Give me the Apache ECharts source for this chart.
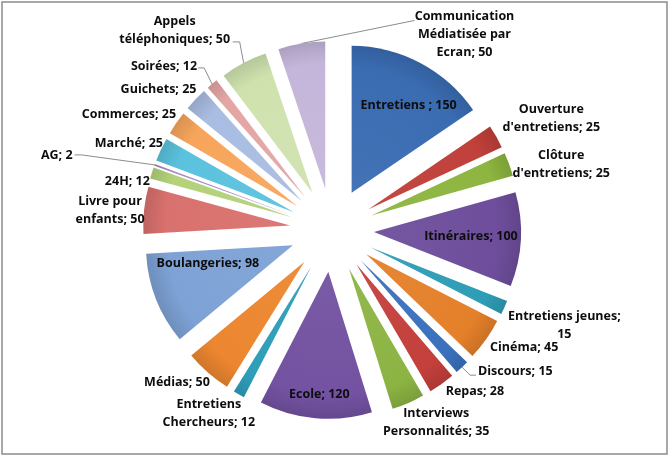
<!DOCTYPE html>
<html><head><meta charset="utf-8">
<script src="https://cdn.jsdelivr.net/npm/echarts@6/dist/echarts.min.js"></script>
<style>html,body{margin:0;padding:0;background:#fff}#c{width:670px;height:457px}</style>
</head><body><div id="c"></div>
<script>
// ---- data ----
const categories = ['Entretiens ', "Ouverture d'entretiens", "Clôture d'entretiens", 'Itinéraires',
  'Entretiens jeunes', 'Cinéma', 'Discours', 'Repas', 'Interviews Personnalités', 'Ecole',
  'Entretiens Chercheurs', 'Médias', 'Boulangeries', 'Livre pour enfants', '24H', 'AG', 'Marché',
  'Commerces', 'Guichets', 'Soirées', 'Appels téléphoniques', 'Communication Médiatisée par Ecran'];
const values = [150, 25, 25, 100, 15, 45, 15, 28, 35, 120, 12, 50, 98, 50, 12, 2, 25, 25, 25, 12, 50, 50];
// word positions after which the label wraps
const labelBreaks = [[], [1], [1], [], [2], [], [], [], [1], [], [1], [], [], [2], [], [], [], [], [], [], [1], [1, 3]];

// ---- style / layout ----
const colors = ['#3A6CB2', '#C0403A', '#8DB53F', '#6E4E9C', '#2F9DB6', '#E5802A', '#3B71BD', '#C3403C',
  '#8CB443', '#7352A1', '#2E9EB8', '#EC8630', '#7EA2D6', '#D9716E', '#B3D27A', '#A28DC6', '#5BC2DD',
  '#F7A55C', '#A9BDE2', '#E3A6A5', '#CFE2AE', '#C4B6DA'];
const CX = 332, CY = 230, R = 147, OFF = 42;
// label placement: ref 'in' = from slice apex, 'out' = from outer edge point; a = align
const place = [
  {ref: 'in', a: 'c', d: [57, -87]},
  {ref: 'out', a: 'c', d: [55, -18]},
  {ref: 'out', a: 'c', d: [52, 0]},
  {ref: 'in', a: 'c', d: [97, 4]},
  {ref: 'out', a: 'c', d: [60, 18]},
  {ref: 'out', a: 'l', d: [4, 8]},
  {ref: 'out', a: 'l', d: [16, 4], line: [[8, 8], [14, 8]]},
  {ref: 'out', a: 'l', d: [4, 8]},
  {ref: 'out', a: 'c', d: [28, 19]},
  {ref: 'in', a: 'c', d: [-9, 123]},
  {ref: 'out', a: 'c', d: [-30, 19]},
  {ref: 'out', a: 'r', d: [2, 10]},
  {ref: 'in', a: 'c', d: [-85, 18]},
  {ref: 'out', a: 'c', d: [-34, 0]},
  {ref: 'out', a: 'r', d: [-2, 8]},
  {ref: 'out', a: 'r', d: [-82, -9], line: [[-73, -10], [-80, -10]]},
  {ref: 'out', a: 'r', d: [2, -6]},
  {ref: 'out', a: 'r', d: [0, -9]},
  {ref: 'out', a: 'r', d: [1, -10]},
  {ref: 'out', a: 'r', d: [-15, -17], line: [[-8, -16], [-14, -16]]},
  {ref: 'out', a: 'c', d: [-69, -32], line: [[-4, -21], [-11, -21]]},
  {ref: 'out', a: 'c', d: [163, -9], line: [[113, -23], [113, -23]]}
];

function shade(hex, f) {
  const n = parseInt(hex.slice(1), 16);
  let r = n >> 16, g = (n >> 8) & 255, b = n & 255;
  const t = f < 0 ? 0 : 255, p = Math.abs(f);
  r = Math.round((t - r) * p + r); g = Math.round((t - g) * p + g); b = Math.round((t - b) * p + b);
  return 'rgb(' + r + ',' + g + ',' + b + ')';
}
const total = values.reduce((s, v) => s + v, 0);
function geom(i) {
  let cum = 0;
  for (let k = 0; k < i; k++) cum += values[k];
  const mid = (cum + values[i] / 2) / total * Math.PI * 2;
  const dx = Math.sin(mid), dy = -Math.cos(mid);
  const ax = CX + OFF * dx, ay = CY + OFF * dy;
  return {dx, dy, ax, ay, px: ax + R * dx, py: ay + R * dy};
}
function labelText(p) {
  const words = (p.name + '; ' + p.value).split(' ');
  const br = labelBreaks[p.dataIndex];
  let s = '';
  words.forEach((w, k) => {
    s += w;
    if (k < words.length - 1) s += br.indexOf(k + 1) >= 0 ? '\n' : ' ';
  });
  return s;
}

// one exploded slice per series: every series lays out the full data, showing only its own slice
const series = values.map((val, k) => {
  const g = geom(k);
  return {
    type: 'pie',
    center: [g.ax, g.ay],
    radius: [0, R],
    startAngle: 90,
    clockwise: true,
    avoidLabelOverlap: false,
    silent: true,
    emphasis: {disabled: true},
    z: 2,
    data: values.map((v, i) => ({
      name: categories[i],
      value: v,
      itemStyle: i === k ? {
        color: {type: 'radial', x: g.ax, y: g.ay, r: R, global: true, colorStops: [
          {offset: 0, color: shade(colors[i], 0.05)},
          {offset: 0.85, color: colors[i]},
          {offset: 1, color: shade(colors[i], -0.12)}]}
      } : {color: 'rgba(0,0,0,0)'},
      label: {show: i === k},
      labelLine: {show: i === k && !!place[i].line}
    })),
    label: {
      position: 'outside',
      color: '#0D0D0D',
      fontFamily: 'Open Sans',
      fontWeight: 'bold',
      fontSize: 12.5,
      lineHeight: 18,
      formatter: labelText
    },
    labelLine: {lineStyle: {color: '#8C8C8C', width: 1}, smooth: false},
    labelLayout: function (params) {
      const i = params.dataIndex;
      if (i !== k) return {};
      const pl = place[i];
      const bx = pl.ref === 'in' ? g.ax : g.px, by = pl.ref === 'in' ? g.ay : g.py;
      const res = {
        x: bx + pl.d[0], y: by + pl.d[1],
        align: pl.a === 'l' ? 'left' : pl.a === 'r' ? 'right' : 'center',
        verticalAlign: 'middle'
      };
      if (pl.line) {
        res.labelLinePoints = [[g.px, g.py], [g.px + pl.line[0][0], g.py + pl.line[0][1]],
          [g.px + pl.line[1][0], g.py + pl.line[1][1]]];
      }
      return res;
    }
  };
});

const chart = echarts.init(document.getElementById('c'), null, {renderer: 'canvas'});
chart.setOption({
  animation: false,
  backgroundColor: '#ffffff',
  graphic: [{type: 'rect', shape: {x: 2, y: 2, width: 665, height: 452},
    style: {fill: 'none', stroke: '#8C8C8C', lineWidth: 1.5}, silent: true}],
  series: series
});
</script></body></html>
